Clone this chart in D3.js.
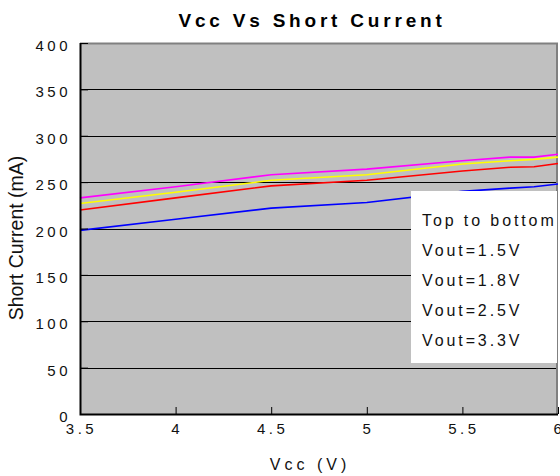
<!DOCTYPE html>
<html>
<head>
<meta charset="utf-8">
<script src="https://cdn.jsdelivr.net/npm/d3@7"></script>
<style>
    body { margin: 0; background: #fff; }
    svg { display: block; font-family: "Liberation Sans", Arial, sans-serif; }
</style>
</head>
<body>
<div id="chart"></div>
<script>
// Data
const vcc = [3.5, 4.0, 4.5, 5.0, 5.5, 5.75, 5.875, 6.0];
const vout15 = [233, 245, 258, 264, 273, 277, 277, 280];
const vout18 = [227, 239, 252, 258, 269.5, 273, 274.5, 277];
const vout25 = [220, 233, 246, 252, 262, 266, 266.5, 270];
const vout33 = [198, 210, 222, 228, 240, 243.5, 245, 248];
const xTicks = [3.5, 4, 4.5, 5, 5.5, 6];
const yTicks = [0, 50, 100, 150, 200, 250, 300, 350, 400];
const legendLines = ['Top to bottom', 'Vout=1.5V', 'Vout=1.8V', 'Vout=2.5V', 'Vout=3.3V'];

const series = [
    { values: vout15, color: '#ff00ff' },
    { values: vout18, color: '#ffff00' },
    { values: vout25, color: '#ff0000' },
    { values: vout33, color: '#0000ff' }
];

const width = 560, height = 476;
const margin = { top: 43, right: 2, bottom: 62, left: 80 };
const plotW = width - margin.left - margin.right;
const plotH = height - margin.top - margin.bottom;

const svg = d3.select('#chart').append('svg')
    .attr('width', width)
    .attr('height', height);

const x = d3.scaleLinear().domain([3.5, 6]).range([0, plotW]);
const y = d3.scaleLinear().domain([0, 400]).range([plotH, 0]);

// Title
svg.append('text')
    .attr('x', 312)
    .attr('y', 27)
    .attr('text-anchor', 'middle')
    .attr('font-size', 19)
    .attr('font-weight', 'bold')
    .attr('letter-spacing', 3.8)
    .text('Vcc Vs Short Current');

const g = svg.append('g')
    .attr('transform', `translate(${margin.left},${margin.top})`);

// Plot background
g.append('rect')
    .attr('width', plotW)
    .attr('height', plotH)
    .attr('fill', '#c0c0c0');

// Horizontal gridlines
g.append('g')
    .selectAll('line')
    .data(yTicks.filter(d => d > 0 && d < 400))
    .enter().append('line')
    .attr('x1', 0)
    .attr('x2', plotW)
    .attr('y1', d => Math.round(y(d)) + 0.5)
    .attr('y2', d => Math.round(y(d)) + 0.5)
    .attr('stroke', '#000')
    .attr('stroke-width', 1);

// Top and right border
g.append('path')
    .attr('d', `M0,0.5H${plotW - 1}V${plotH}`)
    .attr('fill', 'none')
    .attr('stroke', '#808080')
    .attr('stroke-width', 2);

// Series lines
const line = d3.line()
    .x((d, i) => x(vcc[i]))
    .y(d => y(d));

g.append('g')
    .selectAll('path')
    .data(series)
    .enter().append('path')
    .attr('d', d => line(d.values))
    .attr('fill', 'none')
    .attr('stroke', d => d.color)
    .attr('stroke-width', 1.6);

// Legend box (sits over the lines)
const legend = g.append('g')
    .attr('transform', `translate(${411 - margin.left},${191 - margin.top})`);

legend.append('rect')
    .attr('width', plotW - (411 - margin.left) - 1)
    .attr('height', 172)
    .attr('fill', '#fff');

legend.selectAll('text')
    .data(legendLines)
    .enter().append('text')
    .attr('x', 11)
    .attr('y', (d, i) => 35 + i * 30)
    .attr('font-size', 16)
    .attr('letter-spacing', 2.9)
    .attr('fill', '#111')
    .text(d => d);

// Axes: inward ticks, labels drawn separately
const yAxis = g.append('g')
    .call(d3.axisRight(y).tickValues(yTicks).tickSize(8).tickFormat(''));
yAxis.select('.domain').remove();
yAxis.selectAll('line').attr('stroke', '#000');

const xAxis = g.append('g')
    .attr('transform', `translate(0,${plotH})`)
    .call(d3.axisTop(x).tickValues(xTicks).tickSize(7).tickFormat(''));
xAxis.select('.domain').remove();
xAxis.selectAll('line').attr('stroke', '#000');

// Left and bottom axis lines
g.append('path')
    .attr('d', `M0.5,0V${plotH + 0.5}H${plotW}`)
    .attr('fill', 'none')
    .attr('stroke', '#000')
    .attr('stroke-width', 2);

// Tick labels
g.append('g')
    .selectAll('text')
    .data(yTicks)
    .enter().append('text')
    .attr('x', -9)
    .attr('y', d => y(d) + 8)
    .attr('text-anchor', 'end')
    .attr('font-size', 15)
    .attr('letter-spacing', 3.5)
    .attr('fill', '#111')
    .text(d => d);

g.append('g')
    .selectAll('text')
    .data(xTicks)
    .enter().append('text')
    .attr('x', d => x(d) + 1.5)
    .attr('y', plotH + 20)
    .attr('text-anchor', 'middle')
    .attr('font-size', 15)
    .attr('letter-spacing', 3.5)
    .attr('fill', '#111')
    .text(d => d);

// Axis titles
svg.append('text')
    .attr('x', 310)
    .attr('y', 470)
    .attr('text-anchor', 'middle')
    .attr('font-size', 16)
    .attr('letter-spacing', 4)
    .attr('fill', '#111')
    .text('Vcc (V)');

svg.append('text')
    .attr('transform', 'translate(23,238) rotate(-90)')
    .attr('text-anchor', 'middle')
    .attr('font-size', 19.5)
    .attr('fill', '#111')
    .text('Short Current (mA)');
</script>
</body>
</html>
